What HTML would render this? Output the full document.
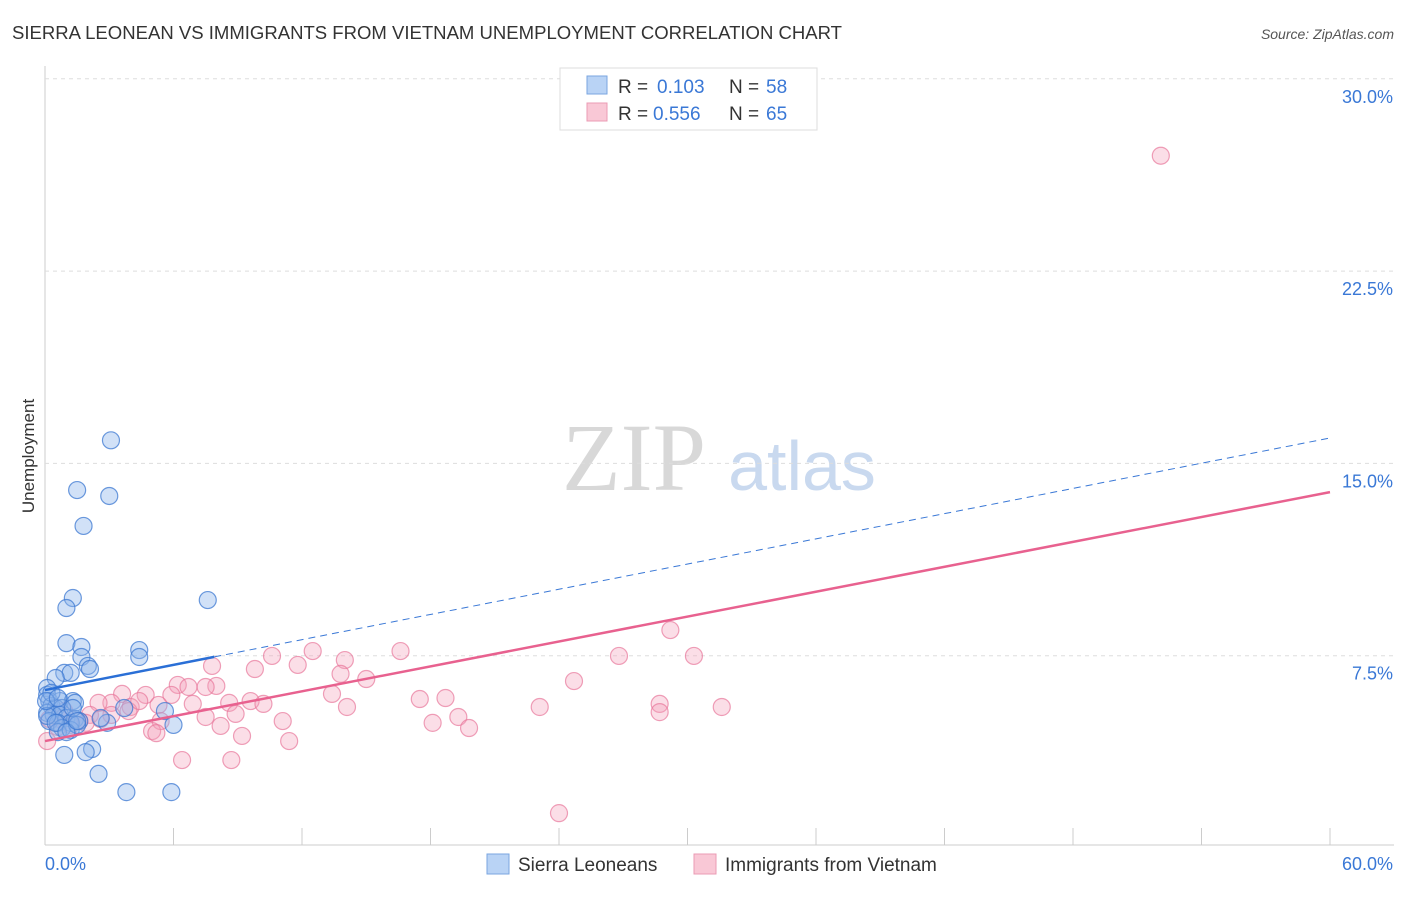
<!DOCTYPE html>
<html><head><meta charset="utf-8"><style>
body{margin:0;background:#fff;font-family:"Liberation Sans",sans-serif;}
</style></head><body>
<svg id="c" width="1406" height="892" font-family="Liberation Sans, sans-serif">
<text x="12" y="39" font-size="18" fill="#333" textLength="830" lengthAdjust="spacingAndGlyphs">SIERRA LEONEAN VS IMMIGRANTS FROM VIETNAM UNEMPLOYMENT CORRELATION CHART</text>
<text x="1394" y="39" font-size="14" fill="#555" text-anchor="end" font-style="italic">Source: ZipAtlas.com</text>
<text x="634" y="490" font-size="96" fill="#d8d8d8" style="font-family:'Liberation Serif',serif" text-anchor="middle">ZIP</text>
<text x="802" y="490" font-size="70" fill="#c9d9ef" text-anchor="middle">atlas</text>
<text x="34" y="456" font-size="17" fill="#333" text-anchor="middle" transform="rotate(-90 34 456)">Unemployment</text>
<g id="grid"></g><g id="pts"></g><g id="lines"></g>
<g>
<rect x="560" y="68" width="257" height="62" fill="#fff" stroke="#ddd"/>
<rect x="587" y="76" width="20" height="18" fill="#b9d3f5" stroke="#7aa6e0"/>
<rect x="587" y="103" width="20" height="18" fill="#f9c8d6" stroke="#eb9bb4"/>
<text x="618" y="93" font-size="19" fill="#333">R =</text>
<text x="657" y="93" font-size="19" fill="#3a78d6">0.103</text>
<text x="729" y="93" font-size="19" fill="#333">N =</text>
<text x="766" y="93" font-size="19" fill="#3a78d6">58</text>
<text x="618" y="120" font-size="19" fill="#333">R =</text>
<text x="653" y="120" font-size="19" fill="#3a78d6">0.556</text>
<text x="729" y="120" font-size="19" fill="#333">N =</text>
<text x="766" y="120" font-size="19" fill="#3a78d6">65</text>
</g>
<g>
<rect x="487" y="854" width="22" height="20" fill="#b9d3f5" stroke="#7aa6e0"/>
<text x="518" y="871" font-size="19" fill="#333">Sierra Leoneans</text>
<rect x="694" y="854" width="22" height="20" fill="#f9c8d6" stroke="#eb9bb4"/>
<text x="725" y="871" font-size="19" fill="#333">Immigrants from Vietnam</text>
</g>
</svg>
<script>
const yTicks=[7.5,15,22.5,30];
const yTickLabels=["7.5%","15.0%","22.5%","30.0%"];
const xTickCount=10;
const blueX=[3.08,1.5,3.0,1.8,1.3,1.0,7.6,1.0,1.7,4.4,1.7,4.4,2.0,2.1,0.9,1.2,0.5,0.1,0.1,0.2,0.7,1.3,1.4,0.3,0.5,0.8,0.1,0.4,0.7,1.0,1.4,1.6,0.2,0.6,1.2,2.9,5.6,3.7,6.0,0.8,0.6,1.2,1.5,0.9,2.2,1.9,2.5,3.8,5.9,0.1,0.3,0.05,1.3,2.6,0.5,1.0,1.5,0.6];
const blueY=[15.9,13.96,13.73,12.56,9.75,9.36,9.67,7.99,7.84,7.72,7.45,7.45,7.1,6.98,6.83,6.83,6.63,6.24,5.97,5.73,5.73,5.73,5.66,5.54,5.46,5.46,5.27,5.19,5.19,5.07,5.03,4.95,4.95,4.88,4.88,4.88,5.34,5.46,4.8,4.68,4.52,4.6,4.8,3.63,3.86,3.74,2.89,2.18,2.18,5.15,6.05,5.73,5.46,5.07,4.88,4.52,4.95,5.85];
const pinkX=[52.1,29.2,16.6,12.5,26.8,30.3,14.0,10.6,7.8,11.8,9.8,13.8,15.0,24.7,6.2,8.0,6.7,7.5,4.7,3.6,5.9,13.4,17.5,18.7,8.6,9.6,10.2,6.9,5.3,3.1,2.5,4.0,14.1,23.1,28.7,31.6,28.7,8.9,7.5,19.3,18.1,11.1,5.4,8.2,19.8,5.0,5.2,9.2,11.4,6.4,8.7,24.0,2.1,1.6,1.2,0.7,0.2,0.9,3.1,3.9,2.6,1.9,4.4,0.6,0.1];
const pinkY=[27.0,8.5,7.68,7.68,7.49,7.49,7.33,7.49,7.1,7.14,6.98,6.79,6.59,6.51,6.36,6.32,6.28,6.28,5.97,6.01,5.97,6.01,5.81,5.85,5.66,5.73,5.62,5.62,5.58,5.66,5.66,5.5,5.5,5.5,5.62,5.5,5.3,5.23,5.11,5.11,4.88,4.95,4.95,4.76,4.68,4.56,4.48,4.37,4.17,3.43,3.43,1.36,5.19,4.95,4.8,5.03,5.03,5.34,5.19,5.34,5.03,4.88,5.73,4.72,4.17];
const blueFit=[6.16,15.99];
const pinkFit=[4.17,13.88];
const NS="http://www.w3.org/2000/svg";
const X0=45,X1=1330,Y0=848,YPER=192.3/7.5;
const sx=v=>X0+(v/60)*(X1-X0), sy=v=>Y0-v*YPER;
function mk(t,a,p){const e=document.createElementNS(NS,t);for(const k in a)e.setAttribute(k,a[k]);document.getElementById(p).appendChild(e);return e;}
mk('line',{x1:X0,y1:66,x2:X0,y2:845,stroke:'#ccc'},'grid');
mk('line',{x1:X0,y1:845,x2:1394,y2:845,stroke:'#ccc'},'grid');
yTicks.forEach((t,i)=>{
 const l=mk('line',{x1:X0,y1:sy(t),x2:1394,y2:sy(t),stroke:'#ddd','stroke-dasharray':'4,4'},'grid');
 
 
 const tx=mk('text',{x:1393,y:sy(t)+24,'font-size':18,fill:'#3a78d6','text-anchor':'end'},'grid');
 tx.textContent=yTickLabels[i];
 
 
});
for(let i=1;i<=xTickCount;i++){
 const l=mk('line',{x1:sx(i*6),y1:828,x2:sx(i*6),y2:845,stroke:'#ccc'},'grid');
 
 
}
const xl=mk('text',{x:45,y:870,'font-size':18,fill:'#3a78d6'},'grid');xl.textContent='0.0%';


const xr=mk('text',{x:1393,y:870,'font-size':18,fill:'#3a78d6','text-anchor':'end'},'grid');xr.textContent='60.0%';


function pts(xs,ys,fill,stroke,name){xs.forEach((x,i)=>{
 const c=mk('circle',{cx:sx(x),cy:sy(ys[i]),r:8.5,fill:fill,stroke:stroke,'stroke-width':1.2},'pts');
 
 
});}
pts(pinkX,pinkY,'rgba(244,160,185,0.35)','rgba(232,120,155,0.7)','vietnam-point');
pts(blueX,blueY,'rgba(140,180,235,0.4)','rgba(60,120,210,0.75)','sierra-leonean-point');
const by=x=>blueFit[0]+(blueFit[1]-blueFit[0])*x/60, py=x=>pinkFit[0]+(pinkFit[1]-pinkFit[0])*x/60;
let l=mk('line',{x1:sx(7.9),y1:sy(by(7.9)),x2:sx(60),y2:sy(by(60)),stroke:'#3a78d6','stroke-dasharray':'7,5','stroke-width':1},'lines');


l=mk('line',{x1:sx(0),y1:sy(by(0)),x2:sx(7.9),y2:sy(by(7.9)),stroke:'#2a6fd6','stroke-width':2.5},'lines');


l=mk('line',{x1:sx(0),y1:sy(py(0)),x2:sx(60),y2:sy(py(60)),stroke:'#e8618f','stroke-width':2.5},'lines');


</script>
</body></html>
